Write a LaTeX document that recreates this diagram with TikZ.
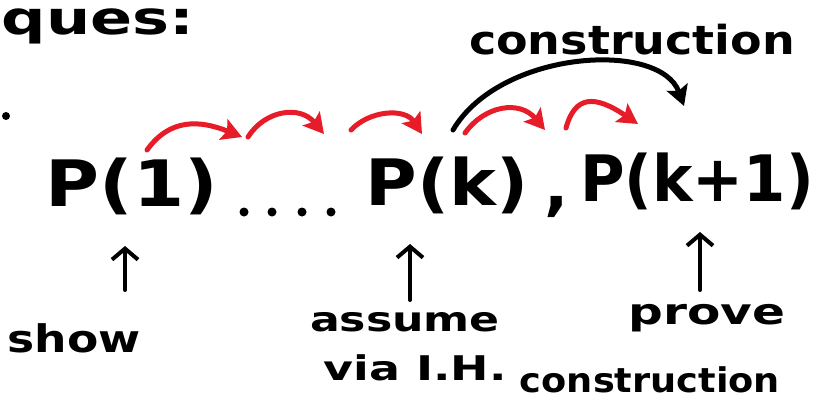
\documentclass[tikz,border=0pt]{standalone}
\usepackage{fontspec}
\setmainfont{DejaVu Sans}
\usetikzlibrary{arrows.meta}
\definecolor{hwred}{RGB}{230,28,40}
\tikzset{
  hw/.style={inner sep=0pt, transform shape, font=\bfseries},
  redarr/.style={draw=hwred, line width=5pt, line cap=round, -{Stealth[length=20pt,width=22pt,inset=4pt]}},
  blkarr/.style={draw=black, line width=5pt, line cap=round, -{Stealth[length=20pt,width=22pt,inset=4pt]}},
  uparr/.style={draw=black, line width=4pt, line cap=round, -{Straight Barb[length=11pt,width=26pt,line width=4pt]}},
  dotmark/.style={circle, fill=black, inner sep=0pt, minimum size=9pt}
}
\begin{document}
\begin{tikzpicture}[x=1pt,y=-1pt]
\useasboundingbox (0,0) rectangle (825,402);
% title
\node[hw, xscale=1.35, font=\fontsize{46}{48}\selectfont\bfseries] (ques) at (98,26) {ques:};
\node[dotmark, minimum size=8pt] (stray) at (6,116) {};
% main row
\node[hw, xscale=1.15, font=\fontsize{64}{68}\selectfont\bfseries] (p1) at (132,186) {P(1)};
\node[dotmark] (d1) at (244,212) {};
\node[dotmark] (d2) at (272,212) {};
\node[dotmark] (d3) at (302,212) {};
\node[dotmark] (d4) at (331,212) {};
\node[hw, xscale=1.1, font=\fontsize{64}{68}\selectfont\bfseries] (pk) at (447,185) {P(k)};
\node[hw, font=\fontsize{64}{68}\selectfont\bfseries] (comma) at (557,207) {,};
\node[hw, xscale=0.95, font=\fontsize{64}{68}\selectfont\bfseries] (pk1) at (697,181) {P(k+1)};
% red arrows
\coordinate (r1a) at (147,150); \coordinate (r1b) at (242,137);
\coordinate (r2a) at (248,137); \coordinate (r2b) at (324,134);
\coordinate (r3a) at (351,130); \coordinate (r3b) at (422,134);
\coordinate (r4a) at (465,133); \coordinate (r4b) at (545,130);
\coordinate (r5a) at (566,128); \coordinate (r5b) at (638,124);
\draw[redarr] (r1a) .. controls (170,118) and (200,120) .. (r1b);
\draw[redarr] (r2a) .. controls (265,110) and (300,105) .. (r2b);
\draw[redarr] (r3a) .. controls (370,110) and (405,108) .. (r3b);
\draw[redarr] (r4a) .. controls (485,105) and (520,100) .. (r4b);
\draw[redarr] (r5a) .. controls (575,95) and (595,95) .. (r5b);
% black construction arrow
\coordinate (ba) at (453,130); \coordinate (bb) at (684,106);
\draw[blkarr] (ba) .. controls (500,50) and (660,40) .. (bb);
\node[hw, xscale=1.15, font=\fontsize{40}{42}\selectfont\bfseries] (constop) at (632,40) {construction};
% up arrows and labels
\coordinate (u1a) at (125,290); \coordinate (u1b) at (125,246);
\coordinate (u2a) at (410,300); \coordinate (u2b) at (410,244);
\coordinate (u3a) at (700,290); \coordinate (u3b) at (700,232);
\draw[uparr] (u1a) -- (u1b);
\draw[uparr] (u2a) -- (u2b);
\draw[uparr] (u3a) -- (u3b);
\node[hw, xscale=1.2, font=\fontsize{38}{40}\selectfont\bfseries] (show) at (74,338) {show};
\node[hw, xscale=1.3, font=\fontsize{34}{36}\selectfont\bfseries] (assume) at (405,322) {assume};
\node[hw, xscale=1.35, font=\fontsize{34}{36}\selectfont\bfseries] (via) at (415,368) {via I.H.};
\node[hw, xscale=1.35, font=\fontsize{36}{38}\selectfont\bfseries] (prove) at (707,318) {prove};
\node[hw, xscale=1.08, font=\fontsize{34}{36}\selectfont\bfseries] (consbot) at (650,380) {construction};
\end{tikzpicture}
\end{document}
